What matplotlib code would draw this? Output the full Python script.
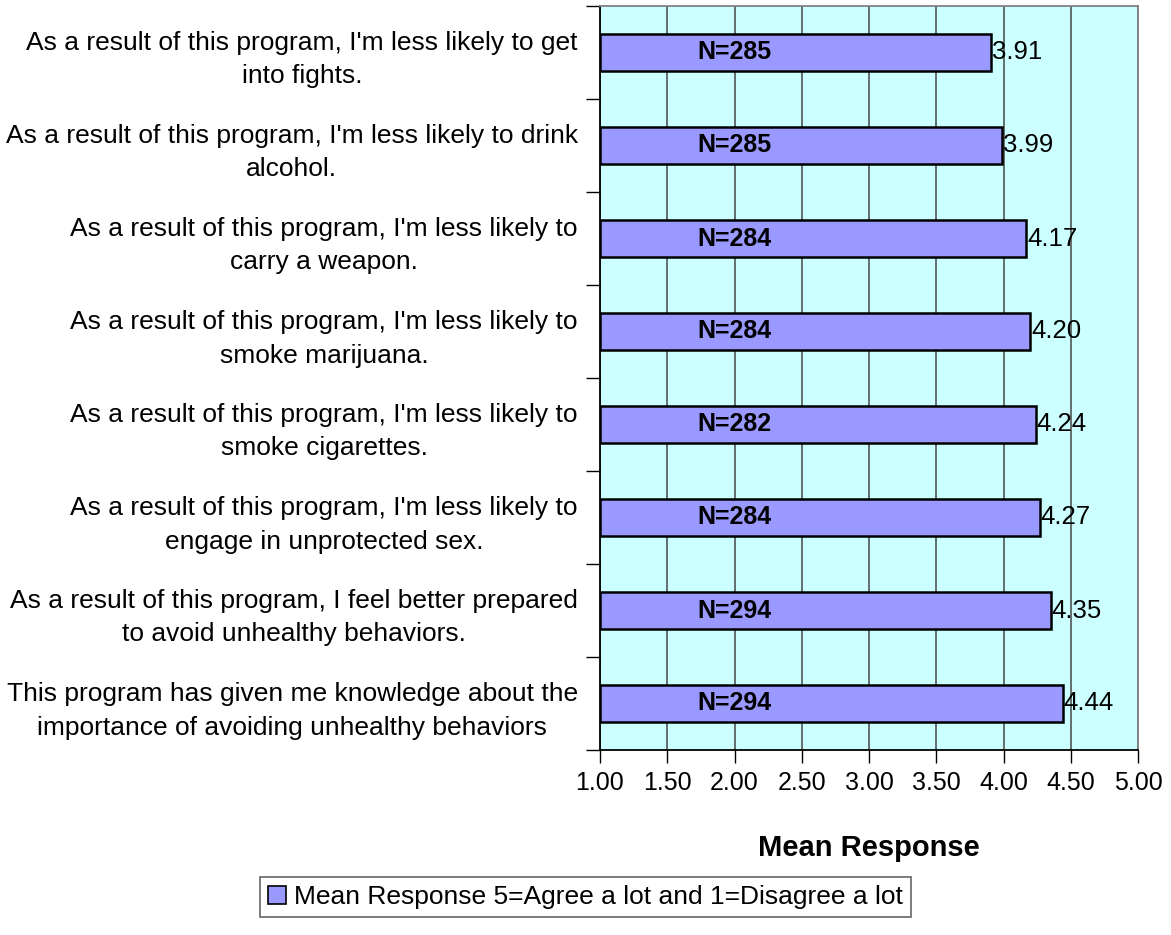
import numpy as np
import matplotlib
matplotlib.use('Agg')
import matplotlib.pyplot as plt
import matplotlib.transforms as mtransforms
from matplotlib.patches import Patch

plt.rcParams['font.family'] = ['Liberation Sans', 'DejaVu Sans']

# data, top to bottom as in the chart
labels = [
    "As a result of this program, I'm less likely to get\ninto fights.",
    "As a result of this program, I'm less likely to drink\nalcohol.",
    "As a result of this program, I'm less likely to\ncarry a weapon.",
    "As a result of this program, I'm less likely to\nsmoke marijuana.",
    "As a result of this program, I'm less likely to\nsmoke cigarettes.",
    "As a result of this program, I'm less likely to\nengage in unprotected sex.",
    "As a result of this program, I feel better prepared\nto avoid unhealthy behaviors.",
    "This program has given me knowledge about the\nimportance of avoiding unhealthy behaviors",
]
means = [3.91, 3.99, 4.17, 4.20, 4.24, 4.27, 4.35, 4.44]
counts = [285, 285, 284, 284, 282, 284, 294, 294]
xticks = [1.0, 1.5, 2.0, 2.5, 3.0, 3.5, 4.0, 4.5, 5.0]
legend_label = "Mean Response 5=Agree a lot and 1=Disagree a lot"

xmin, xmax = 1.0, 5.0

fig = plt.figure(figsize=(11.71, 9.35), dpi=100)
ax = fig.add_axes([600 / 1171, 1 - 750 / 935, 538 / 1171, 744 / 935])
ax.set_facecolor('#CCFFFF')

n = len(labels)
ypos = np.arange(n)[::-1]  # first item on top
ax.barh(ypos, np.array(means) - xmin, left=xmin, height=0.39,
        color='#9999FF', edgecolor='black', linewidth=1.8, zorder=3)

for y, m, c in zip(ypos, means, counts):
    ax.text(m + 0.005, y, '%.2f' % m, ha='left', va='center',
            fontsize=18.5, zorder=4)
    ax.text(2.0, y, 'N=%d' % c, ha='center', va='center',
            fontsize=18, fontweight='bold', zorder=4)

ax.set_xlim(xmin, xmax)
ax.set_ylim(-0.5, n - 0.5)

ax.set_xticks(xticks)
ax.set_xticklabels(['%.2f' % t for t in xticks], fontsize=18)
ax.xaxis.grid(True, color='#484848', linewidth=1.1, zorder=1)
ax.set_axisbelow(True)

ax.set_yticks(ypos)
ax.set_yticklabels(labels, fontsize=19)
# labels sit a few pixels above the band centre in the reference
shift = mtransforms.ScaledTranslation(0, 5 / 100, fig.dpi_scale_trans)
for lbl in ax.get_yticklabels():
    lbl.set_multialignment('center')
    lbl.set_linespacing(1.5)
    lbl.set_transform(lbl.get_transform() + shift)
ax.set_yticks(np.arange(-0.5, n, 1.0), minor=True)

ax.tick_params(axis='y', which='major', length=0, pad=16)
ax.tick_params(axis='y', which='minor', length=10, width=1, direction='out')
ax.tick_params(axis='x', which='major', length=9, width=1, direction='out', pad=6)

ax.spines['left'].set_color('black')
ax.spines['bottom'].set_color('black')
ax.spines['top'].set_color('#808080')
ax.spines['right'].set_color('#808080')
for s in ax.spines.values():
    s.set_linewidth(1.3)

ax.set_xlabel('Mean Response', fontsize=21, fontweight='bold', labelpad=28)

handle = Patch(facecolor='#9999FF', edgecolor='black', linewidth=1.2)
leg = fig.legend([handle], [legend_label], loc='lower center',
                 bbox_to_anchor=(0.5, 0.005), fontsize=19, frameon=True,
                 fancybox=False, edgecolor='#404040', handlelength=0.7,
                 handleheight=0.7, handletextpad=0.3, borderpad=0.3)
leg.get_frame().set_linewidth(1.2)

fig.savefig('out.png', dpi=100, facecolor='white')
